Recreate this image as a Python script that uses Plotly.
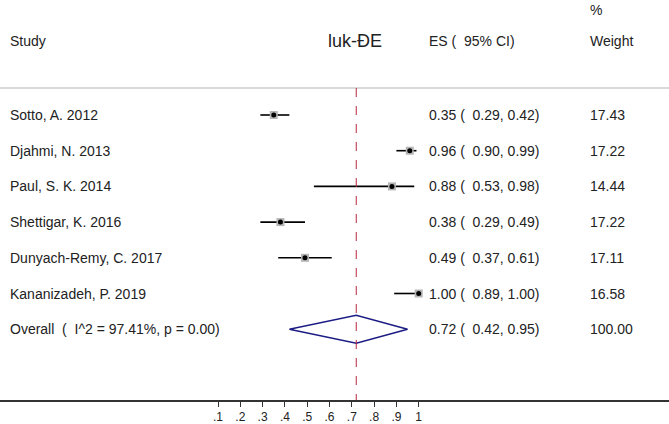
import plotly.graph_objects as go

# ---- data ----
studies = ["Sotto, A. 2012", "Djahmi, N. 2013", "Paul, S. K. 2014",
           "Shettigar, K. 2016", "Dunyach-Remy, C. 2017", "Kananizadeh, P. 2019"]
es = [0.35, 0.96, 0.88, 0.38, 0.49, 1.00]
ci_low = [0.29, 0.90, 0.53, 0.29, 0.37, 0.89]
ci_high = [0.42, 0.99, 0.98, 0.49, 0.61, 1.00]
weights = [17.43, 17.22, 14.44, 17.22, 17.11, 16.58]

overall_label = "Overall  (  I^2 = 97.41%, p = 0.00)"
overall_es = 0.72
overall_low = 0.42
overall_high = 0.95
overall_weight = 100.00

tick_vals = [0.1, 0.2, 0.3, 0.4, 0.5, 0.6, 0.7, 0.8, 0.9, 1.0]
tick_text = [".1", ".2", ".3", ".4", ".5", ".6", ".7", ".8", ".9", "1"]

# ---- layout geometry (pixel-based y axis) ----
W, H = 669, 424
PLOT_H = 400
ROW0, ROWSTEP = 115, 35.7
row_y = [ROW0 + i * ROWSTEP for i in range(len(studies))]
overall_y = ROW0 + len(studies) * ROWSTEP
HALF_DIAMOND = 14

px_per_unit = 223.0
x_left = 0.1 - 218.0 / px_per_unit
x_right = x_left + W / px_per_unit

FONT = "Liberation Sans, Arial, sans-serif"
TXT = "#222222"

fig = go.Figure()

# CI lines
for i in range(len(studies)):
    fig.add_trace(go.Scatter(x=[ci_low[i], ci_high[i]], y=[row_y[i], row_y[i]],
                             mode="lines", line=dict(color="black", width=1.6),
                             hoverinfo="skip", showlegend=False))
# weight boxes
fig.add_trace(go.Scatter(x=es, y=row_y, mode="markers",
                         marker=dict(symbol="square", size=8, color="#b5b5b5"),
                         hoverinfo="skip", showlegend=False))
# point estimates
fig.add_trace(go.Scatter(x=es, y=row_y, mode="markers",
                         marker=dict(symbol="circle", size=5, color="black"),
                         showlegend=False))
# overall diamond
fig.add_trace(go.Scatter(
    x=[overall_low, overall_es, overall_high, overall_es, overall_low],
    y=[overall_y, overall_y - HALF_DIAMOND, overall_y, overall_y + HALF_DIAMOND, overall_y],
    mode="lines", line=dict(color="#1c1c84", width=1.5),
    hoverinfo="skip", showlegend=False))

shapes = [
    dict(type="line", xref="paper", yref="y", x0=0, x1=1, y0=88, y1=88,
         line=dict(color="#cccccc", width=1.5)),
    dict(type="line", xref="x", yref="y", x0=overall_es, x1=overall_es, y0=88, y1=PLOT_H,
         line=dict(color="#b8283f", width=1, dash="dash")),
]

ann = []
def txt(x_px, y, s, anchor="left", size=14):
    ann.append(dict(x=x_px / W, y=y, xref="paper", yref="y", text=s, showarrow=False,
                    xanchor=anchor, yanchor="middle",
                    font=dict(family=FONT, size=size, color=TXT)))

# headers
txt(8, 41, "Study")
txt(355, 41, "luk-ĐE", anchor="center", size=18)
txt(427, 41, "ES (  95% CI)")
txt(588, 10, "%")
txt(588, 41, "Weight")

for i, s in enumerate(studies):
    txt(8, row_y[i], s)
    txt(427, row_y[i], f"{es[i]:.2f} (  {ci_low[i]:.2f}, {ci_high[i]:.2f})")
    txt(588, row_y[i], f"{weights[i]:.2f}")
txt(8, overall_y, overall_label)
txt(427, overall_y, f"{overall_es:.2f} (  {overall_low:.2f}, {overall_high:.2f})")
txt(588, overall_y, f"{overall_weight:.2f}")

fig.update_layout(
    width=W, height=H,
    margin=dict(l=0, r=0, t=0, b=H - PLOT_H),
    paper_bgcolor="white", plot_bgcolor="white",
    shapes=shapes, annotations=ann,
    hovermode=False,
    xaxis=dict(range=[x_left, x_right], showgrid=False, zeroline=False,
               showline=True, linecolor="#333333", linewidth=1.5,
               ticks="outside", ticklen=5, tickcolor="#333333", tickwidth=1,
               tickvals=tick_vals, ticktext=tick_text,
               tickfont=dict(family=FONT, size=12, color=TXT), fixedrange=True),
    yaxis=dict(range=[PLOT_H, 0], visible=False, fixedrange=True),
    font=dict(family=FONT),
)

fig.write_html("out.html", config={"displayModeBar": False},
               post_script="document.body.style.margin='0';document.body.style.overflow='hidden';")
